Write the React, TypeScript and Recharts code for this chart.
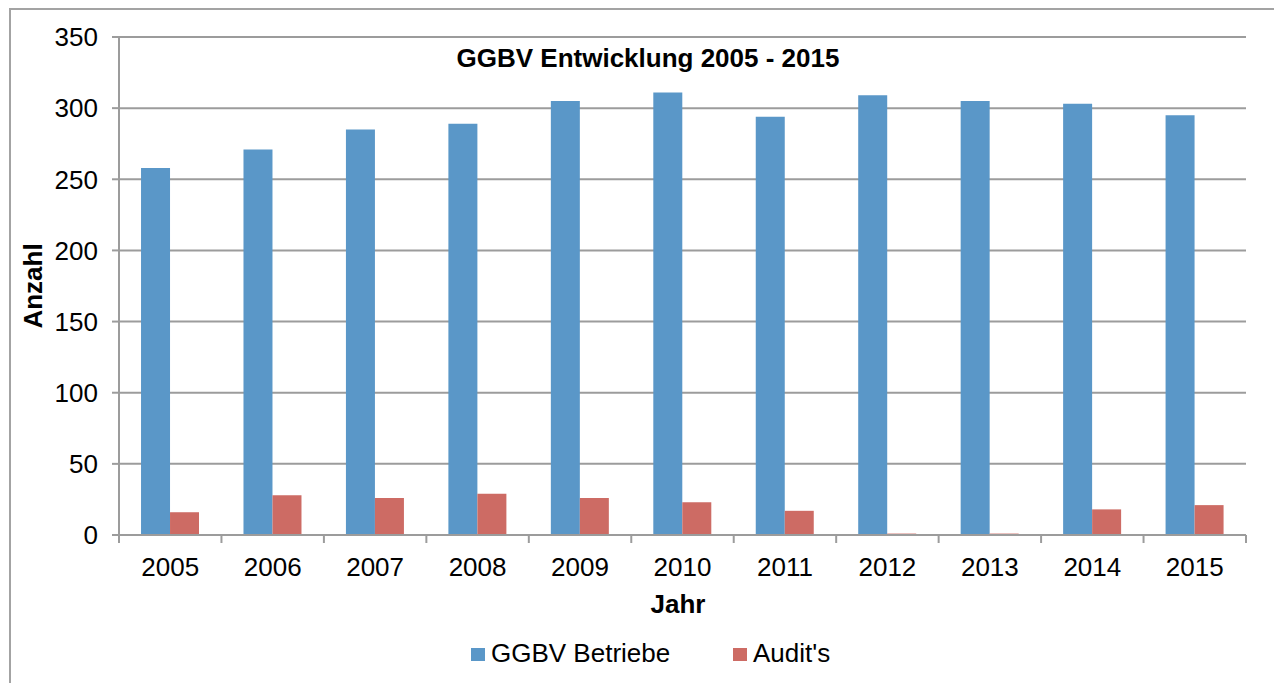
import { BarChart, Bar, XAxis, YAxis, CartesianGrid, Legend } from "recharts"

const years = ["2005", "2006", "2007", "2008", "2009", "2010", "2011", "2012", "2013", "2014", "2015"]
const betriebe = [258, 271, 285, 289, 305, 311, 294, 309, 305, 303, 295]
const audits = [16, 28, 26, 29, 26, 23, 17, 1, 1, 18, 21]
const yTicks = [0, 50, 100, 150, 200, 250, 300, 350]

const data = years.map((year, i) => ({ year, betriebe: betriebe[i], audits: audits[i] }))

const BLUE = "#5a97c8"
const RED = "#cd6b64"
const GRID = "#9c9c9c"
const FONT = "'Liberation Sans', Arial, sans-serif"

const PLOT_LEFT = 119
const PLOT_RIGHT = 1246
const PLOT_BOTTOM = 535
const step = (PLOT_RIGHT - PLOT_LEFT) / years.length

const XTick = (props: any) => {
  const { x, payload, index } = props
  return (
    <g>
      <line x1={x - step / 2} x2={x - step / 2} y1={PLOT_BOTTOM} y2={PLOT_BOTTOM + 8} stroke={GRID} strokeWidth={2} />
      {index === years.length - 1 && (
        <line x1={x + step / 2} x2={x + step / 2} y1={PLOT_BOTTOM} y2={PLOT_BOTTOM + 8} stroke={GRID} strokeWidth={2} />
      )}
      <text x={x} y={576} textAnchor="middle" fontSize={26} fill="#000" fontFamily={FONT}>
        {payload.value}
      </text>
    </g>
  )
}

const LegendBox = () => (
  <div style={{ position: "relative", height: 73, fontFamily: FONT, fontSize: 26, color: "#000" }}>
    <div style={{ position: "absolute", left: 471, top: 38, width: 14, height: 13, background: BLUE }} />
    <div style={{ position: "absolute", left: 491, top: 28, lineHeight: "30px", whiteSpace: "nowrap" }}>GGBV Betriebe</div>
    <div style={{ position: "absolute", left: 733, top: 38, width: 14, height: 13, background: RED }} />
    <div style={{ position: "absolute", left: 753, top: 28, lineHeight: "30px", whiteSpace: "nowrap" }}>Audit's</div>
  </div>
)

export default function App() {
  return (
    <div style={{ position: "absolute", left: 0, top: 0, width: 1274, height: 683, background: "#fff", overflow: "hidden" }}>
      <div style={{ position: "absolute", left: 9, top: 8, width: 1300, height: 720, border: "2px solid #a3a3a3" }} />
      <div style={{ position: "absolute", left: 0, top: 0 }}>
        <BarChart
          width={1274}
          height={683}
          data={data}
          margin={{ top: 37, right: 28, left: 0, bottom: 0 }}
          barCategoryGap="21.5%"
          barGap={0}
        >
          <CartesianGrid vertical={false} stroke={GRID} strokeWidth={2} />
          <XAxis
            dataKey="year"
            height={75}
            axisLine={{ stroke: GRID, strokeWidth: 2 }}
            tickLine={false}
            tick={<XTick />}
            interval={0}
          />
          <YAxis
            width={119}
            domain={[0, 350]}
            ticks={yTicks}
            interval={0}
            axisLine={{ stroke: GRID, strokeWidth: 2 }}
            tickLine={{ stroke: GRID, strokeWidth: 2 }}
            tickSize={7}
            tickMargin={14}
            tick={{ fontSize: 26, fill: "#000", fontFamily: FONT }}
          />
          <Legend verticalAlign="bottom" content={<LegendBox />} />
          <Bar dataKey="betriebe" name="GGBV Betriebe" fill={BLUE} isAnimationActive={false} />
          <Bar dataKey="audits" name="Audit's" fill={RED} isAnimationActive={false} />
          <text x={648} y={67} textAnchor="middle" fontSize={26} fontWeight="bold" fontFamily={FONT} fill="#000">
            GGBV Entwicklung 2005 - 2015
          </text>
          <text x={678} y={613} textAnchor="middle" fontSize={26} fontWeight="bold" fontFamily={FONT} fill="#000">
            Jahr
          </text>
          <text
            x={42}
            y={286}
            textAnchor="middle"
            fontSize={26}
            fontWeight="bold"
            fontFamily={FONT}
            fill="#000"
            transform="rotate(-90 42 286)"
          >
            Anzahl
          </text>
        </BarChart>
      </div>
    </div>
  )
}
